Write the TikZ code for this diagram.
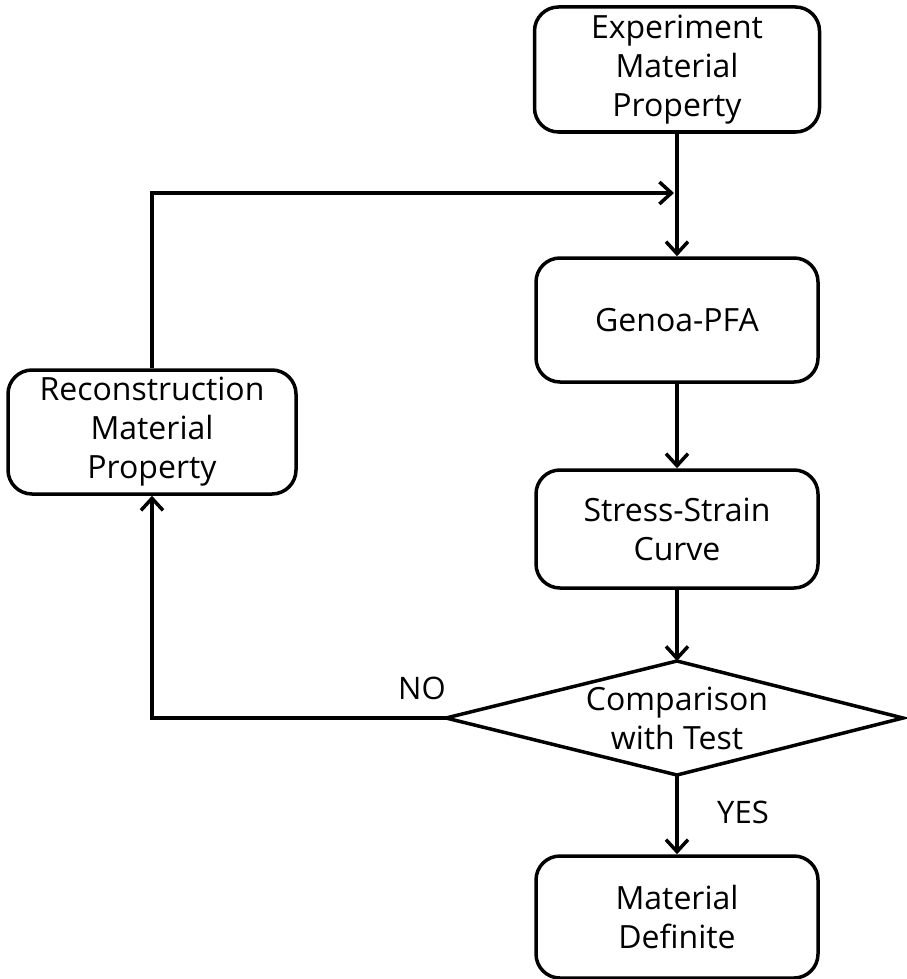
\documentclass[tikz,border=0pt]{standalone}
\usepackage{fontspec}
\setmainfont{Open Sans}
\usetikzlibrary{arrows.meta}
\tikzset{
  box/.style={draw, line width=3.5pt, rounded corners=24pt, align=center, inner sep=0pt,
    minimum width=282pt, minimum height=122pt, font=\fontsize{32}{39}\selectfont},
  dectext/.style={align=center, inner sep=0pt, font=\fontsize{32}{39}\selectfont},
  decline/.style={line width=3.5pt, line join=miter},
  arr/.style={line width=3.5pt, -{Straight Barb[length=12pt,width=22pt,line width=3.5pt]}},
  lbl/.style={font=\fontsize{31}{36}\selectfont, inner sep=0pt}
}
\begin{document}
\begin{tikzpicture}[x=1pt,y=-1pt]
\useasboundingbox (0,0) rectangle (906,979);
\node[box, minimum width=285pt, minimum height=125pt] (exp) at (677,69.5) {Experiment\\Material\\Property};
\node[box, minimum height=124pt] (gen) at (677,320) {Genoa-PFA};
\node[box, minimum height=118pt] (ssc) at (677,529) {Stress-Strain\\Curve};
\node[dectext] (cmp) at (677,718) {Comparison\\with Test};
\coordinate (cmpN) at (677,661);
\coordinate (cmpS) at (677,775);
\coordinate (cmpW) at (446,718);
\coordinate (cmpE) at (903,718);
\draw[decline] (cmpN) -- (cmpE) -- (cmpS) -- (cmpW) -- cycle;
\node[box, minimum height=122pt] (def) at (677,917) {Material\\Definite};
\node[box, minimum width=288pt, minimum height=124pt] (rec) at (152,432) {Reconstruction\\Material\\Property};
\coordinate (join) at (674,193);
\draw[arr] (exp) -- (gen);
\draw[arr] (gen) -- (ssc);
\draw[arr] (ssc.south) -- (cmpN);
\draw[arr] (cmpS) -- (def.north);
\draw[arr] (cmpW) -| (rec.south);
\draw[arr] (rec.north) |- (join);
\node[lbl] (no) at (422,688) {NO};
\node[lbl] (yes) at (743,812) {YES};
\end{tikzpicture}
\end{document}
